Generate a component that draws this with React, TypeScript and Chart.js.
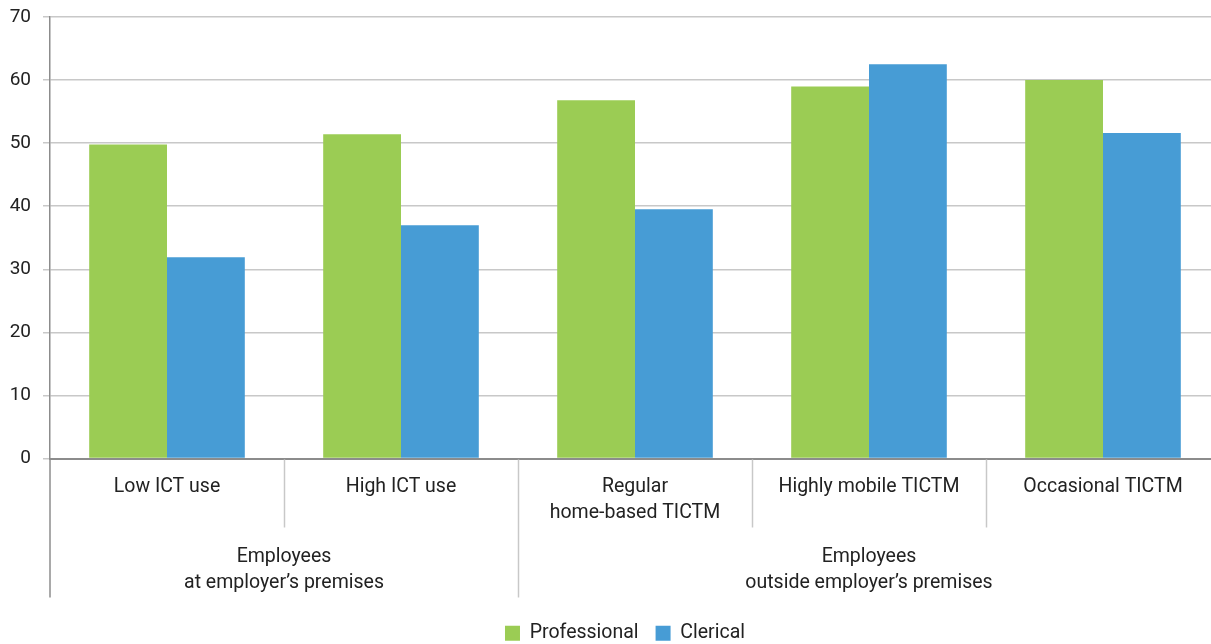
import React, { useEffect, useRef } from 'react';
import { Chart, registerables } from 'chart.js';

Chart.register(...registerables);

const categories: string[][] = [
  ['Low ICT use'],
  ['High ICT use'],
  ['Regular', 'home-based TICTM'],
  ['Highly mobile TICTM'],
  ['Occasional TICTM'],
];
const groupLabels: string[][] = [
  ['Employees', 'at employer’s premises'],
  ['Employees', 'outside employer’s premises'],
];
const groupSizes = [2, 3];
const seriesNames = ['Professional', 'Clerical'];
const professional = [49.8, 51.4, 56.8, 59.0, 60.0];
const clerical = [31.9, 37.0, 39.5, 62.5, 51.6];
const yMin = 0;
const yMax = 70;
const yStep = 10;

const FONT = 'Roboto';
const TEXT = '#222222';
const FS = 19.5;

const groupPlugin = {
  id: 'groupPlugin',
  afterLayout(chart: any) {
    const lg = chart.legend;
    if (lg) {
      lg.left += 15;
      lg.right += 15;
      lg.top += 9;
      lg.bottom += 9;
    }
  },
  afterDraw(chart: any) {
    const { ctx, chartArea } = chart;
    const xs = chart.scales.x;
    const n = categories.length;
    const step = (xs.right - xs.left) / n;
    const base = chartArea.bottom;
    ctx.save();
    let acc = 0;
    const groupEnds = new Set<number>();
    groupSizes.forEach((s) => {
      acc += s;
      groupEnds.add(acc);
    });
    for (let i = 1; i < n; i++) {
      const x = Math.round(xs.left + i * step) + 0.5;
      const isGroup = groupEnds.has(i);
      ctx.strokeStyle = '#c8c8c8';
      ctx.lineWidth = 1.5;
      ctx.beginPath();
      ctx.moveTo(x, base + 1);
      ctx.lineTo(x, base + (isGroup ? 139 : 69));
      ctx.stroke();
    }
    ctx.strokeStyle = '#8c8c8c';
    ctx.lineWidth = 1.5;
    ctx.beginPath();
    ctx.moveTo(xs.left, base);
    ctx.lineTo(xs.left, base + 139);
    ctx.stroke();
    ctx.fillStyle = TEXT;
    ctx.font = `${FS}px ${FONT}`;
    ctx.textAlign = 'center';
    ctx.textBaseline = 'middle';
    let start = 0;
    groupSizes.forEach((s, gi) => {
      const x0 = xs.left + start * step;
      const x1 = xs.left + (start + s) * step;
      const cx = (x0 + x1) / 2;
      groupLabels[gi].forEach((line, li) => {
        ctx.fillText(line, cx, base + 99 + li * 26);
      });
      start += s;
    });
    ctx.restore();
  },
};

export default function App() {
  const ref = useRef<HTMLCanvasElement | null>(null);
  useEffect(() => {
    if (!ref.current) return;
    const chart = new Chart(ref.current, {
      type: 'bar',
      data: {
        labels: categories,
        datasets: [
          {
            label: seriesNames[0],
            data: professional,
            backgroundColor: '#9bcc54',
            categoryPercentage: 0.665,
            barPercentage: 1.0,
          },
          {
            label: seriesNames[1],
            data: clerical,
            backgroundColor: '#479cd5',
            categoryPercentage: 0.665,
            barPercentage: 1.0,
          },
        ],
      },
      options: {
        responsive: false,
        animation: false,
        layout: { padding: { top: 17, right: 2, left: 0, bottom: 0 } },
        plugins: {
          tooltip: { enabled: false },
          legend: {
            position: 'bottom',
            labels: {
              font: { family: FONT, size: FS },
              color: TEXT,
              boxWidth: 15,
              boxHeight: 15,
              padding: 17,
            },
          },
        },
        scales: {
          x: {
            afterFit: (s: any) => {
              s.height = 139;
            },
            grid: { display: true, drawOnChartArea: false, drawTicks: false },
            border: { display: true, color: '#8c8c8c', width: 2 },
            ticks: {
              font: { family: FONT, size: FS, lineHeight: 1.35 },
              color: TEXT,
              padding: 15,
              maxRotation: 0,
              autoSkip: false,
            },
          },
          y: {
            min: yMin,
            max: yMax,
            afterFit: (s: any) => {
              s.width = 50;
              s.paddingTop = 0;
              s.paddingBottom = 0;
            },
            ticks: {
              stepSize: yStep,
              font: { family: FONT, size: 19 },
              color: TEXT,
              padding: 12,
            },
            grid: { color: '#c8c8c8', lineWidth: 1.5, tickLength: 7 },
            border: { display: true, color: '#8c8c8c', width: 1.5 },
          },
        },
      },
      plugins: [groupPlugin],
    });
    return () => chart.destroy();
  }, []);
  return (
    <div style={{ position: 'fixed', left: 0, top: 0, width: 1222, height: 644 }}>
      <canvas ref={ref} width={1222} height={644} />
    </div>
  );
}
